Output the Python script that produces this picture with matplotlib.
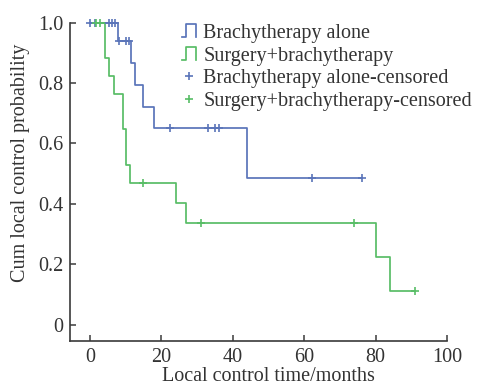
import numpy as np
import matplotlib
matplotlib.use('Agg')
import matplotlib.pyplot as plt
from matplotlib.lines import Line2D
from matplotlib.legend_handler import HandlerLine2D

# data
blue_t = [0, 7.9, 11.4, 12.6, 14.9, 17.9, 44.1, 76.3]
blue_s = [1.0, 0.938, 0.867, 0.794, 0.72, 0.65, 0.485, 0.485]
blue_cens = [0.0, 1.5, 5.3, 6.3, 6.9, 8.2, 10.2, 10.9, 22.4, 33.0, 35.0, 36.2, 62.1, 76.3]

green_t = [0, 4.1, 5.4, 6.8, 9.3, 10.0, 11.2, 24.1, 26.9, 80.0, 84.1, 90.9]
green_s = [1.0, 0.882, 0.824, 0.765, 0.647, 0.529, 0.47, 0.403, 0.336, 0.224, 0.112, 0.112]
green_cens = [1.8, 2.7, 14.9, 31.1, 73.9, 90.9]

labels = ['Brachytherapy alone', 'Surgery+brachytherapy',
          'Brachytherapy alone-censored', 'Surgery+brachytherapy-censored']
xticks = [0, 20, 40, 60, 80, 100]
yticks = [0, 0.2, 0.4, 0.6, 0.8, 1.0]
ytick_labels = ['0', '0.2', '0.4', '0.6', '0.8', '1.0']

c_blue = '#5a74b9'
c_green = '#58bd66'
c_axis = '#3a3a3a'

plt.rcParams['font.family'] = ['Liberation Serif', 'DejaVu Serif']
plt.rcParams['font.size'] = 14


def surv_at(t, s, x):
    i = np.searchsorted(t, x, side='right') - 1
    return np.array(s)[i]


class StepHandler(HandlerLine2D):
    # step-shaped legend icon
    def create_artists(self, legend, orig_handle, xdescent, ydescent,
                       width, height, fontsize, trans):
        x0, x1 = -xdescent, -xdescent + width
        lo, hi = -ydescent + 0.05 * height, -ydescent + 1.0 * height
        xm = x0 + 0.3 * width
        ln = Line2D([x0, xm, xm, x1, x1], [lo, lo, hi, hi, lo],
                    color=orig_handle.get_color(), lw=orig_handle.get_linewidth(),
                    transform=trans)
        return [ln]


fig = plt.figure(figsize=(4.79, 3.89), dpi=100)
ax = fig.add_axes([70 / 479, 1 - 341 / 389, 377 / 479, 318.5 / 389])

l1, = ax.step(blue_t, blue_s, where='post', color=c_blue, lw=1.25, clip_on=False)
l2, = ax.step(green_t, green_s, where='post', color=c_green, lw=1.25, clip_on=False)
m1, = ax.plot(blue_cens, surv_at(blue_t, blue_s, blue_cens), '+', color=c_blue,
              ms=6, mew=1.2, clip_on=False)
m2, = ax.plot(green_cens, surv_at(green_t, green_s, green_cens), '+', color=c_green,
              ms=6, mew=1.2, clip_on=False)

ax.set_xlim(-5.6, 100)
ax.set_ylim(-0.053, 1.0)
ax.set_xticks(xticks)
ax.set_yticks(yticks)
ax.set_yticklabels(ytick_labels)
ax.spines['top'].set_visible(False)
ax.spines['right'].set_visible(False)
for sp in ['left', 'bottom']:
    ax.spines[sp].set_color(c_axis)
    ax.spines[sp].set_linewidth(1.2)
ax.tick_params(direction='in', length=4.5, width=1.1, color=c_axis,
               labelcolor='#333333', labelsize=14.5)
ax.tick_params(axis='y', pad=5)
ax.tick_params(axis='x', pad=5)

ax.set_xlabel('Local control time/months', color='#333333', fontsize=14.5)
ax.set_ylabel('Cum local control probability', color='#333333', fontsize=14.5)
ax.xaxis.set_label_coords(0.5265, -0.083)
ax.yaxis.set_label_coords(-0.106, 0.56)

leg = fig.legend([l1, l2, m1, m2], labels, loc='upper left',
                 bbox_to_anchor=(182 / 479, 1 - 24 / 389), frameon=False,
                 borderpad=0, handlelength=0.7, handletextpad=0.35,
                 labelspacing=0.17, borderaxespad=0, fontsize=14.5,
                 handler_map={l1: StepHandler(), l2: StepHandler()})
for t in leg.get_texts():
    t.set_color('#333333')

fig.savefig('out.png', dpi=100)
